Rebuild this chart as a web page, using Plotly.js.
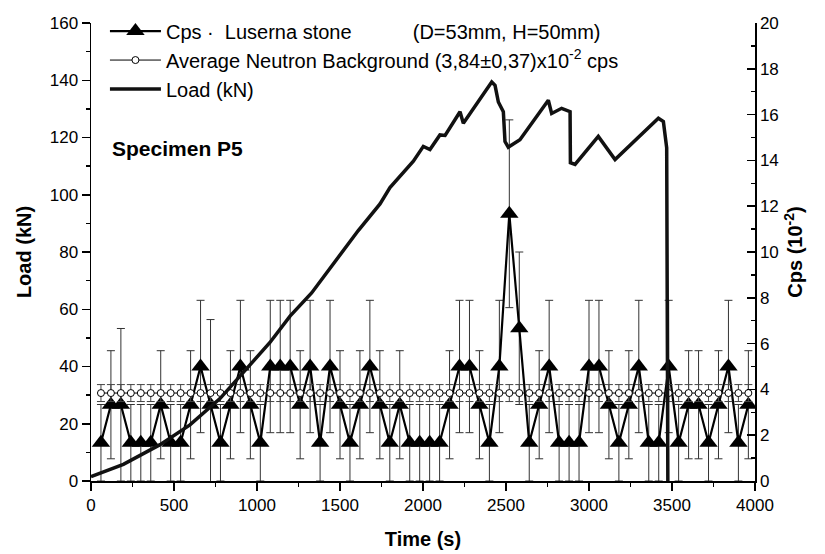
<!DOCTYPE html>
<html><head><meta charset="utf-8">
<script src="https://cdn.plot.ly/plotly-3.0.1.min.js"></script>
<style>html,body{margin:0;padding:0;background:#fff}</style>
</head><body><div id="chart" style="width:825px;height:554px"></div>
<script>
// Time of each neutron count (s)
const time = [60,120,180,240,300,360,420,480,540,600,
  660,720,780,840,900,960,1020,1080,1140,1200,
  1260,1320,1380,1440,1500,1560,1620,1680,1740,1800,
  1860,1920,1980,2040,2100,2160,2220,2280,2340,2400,
  2460,2520,2580,2640,2700,2760,2820,2880,2940,3000,
  3060,3120,3180,3240,3300,3360,3420,3480,3540,3600,
  3660,3720,3780,3840,3900,3960];
// Cps (x10^-2)
const cps = [1.67,3.33,3.33,1.67,1.67,1.67,3.33,1.67,1.67,3.33,
  5.0,3.33,1.67,3.33,5.0,3.33,1.67,5.0,5.0,5.0,
  3.33,5.0,1.67,5.0,3.33,1.67,3.33,5.0,3.33,1.67,
  3.33,1.67,1.67,1.67,1.67,3.33,5.0,5.0,3.33,1.67,
  5.0,11.67,6.67,1.67,3.33,5.0,1.67,1.67,1.67,5.0,
  5.0,3.33,1.67,3.33,5.0,1.67,1.67,5.0,1.67,3.33,
  3.33,1.67,3.33,5.0,1.67,3.33];
const cpsErr = [1.67,2.36,3.33,1.67,1.67,1.67,2.36,1.67,1.67,2.36,
  2.89,3.72,1.67,2.36,2.89,2.36,1.67,2.89,2.89,2.89,
  2.36,2.89,1.67,2.89,2.36,1.67,2.36,2.89,2.36,1.67,
  2.36,1.67,1.67,1.67,1.67,2.36,2.89,2.89,2.36,1.67,
  2.89,4.10,3.33,1.67,2.36,2.89,1.67,1.67,1.67,2.89,
  2.89,2.36,1.67,2.36,2.89,1.67,1.67,2.89,1.67,2.36,
  2.36,1.67,2.36,2.89,1.67,2.36];
// Average neutron background (x10^-2 cps)
const bgCps = [3.84,3.84,3.84,3.84,3.84,3.84,3.84,3.84,3.84,3.84,
  3.84,3.84,3.84,3.84,3.84,3.84,3.84,3.84,3.84,3.84,
  3.84,3.84,3.84,3.84,3.84,3.84,3.84,3.84,3.84,3.84,
  3.84,3.84,3.84,3.84,3.84,3.84,3.84,3.84,3.84,3.84,
  3.84,3.84,3.84,3.84,3.84,3.84,3.84,3.84,3.84,3.84,
  3.84,3.84,3.84,3.84,3.84,3.84,3.84,3.84,3.84,3.84,
  3.84,3.84,3.84,3.84,3.84,3.84];
const bgErr = 0.37;
// Load curve
const loadTime = [0,195,416,596,777,938,1078,1199,1329,1610,1741,1801,1942,2002,2042,2102,2133,2223,2243,2414,2434,2454,2484,2494,2514,2584,2755,2775,2835,2886,2888,2916,3056,3157,3418,3448,3468,3475];
const load =     [1.5,5.8,12.7,19.6,28.8,39.2,48.4,57.6,65.7,87.5,96.8,102.5,111.7,116.9,115.8,120.9,120.7,129,125,139.4,138.2,132.4,129,118.6,116.6,119.2,133,128.4,130.2,129,111.2,110.6,120.4,112.3,126.7,125.6,116.4,0];

const FONT = 'Liberation Sans, Arial, sans-serif';

const traces = [
  {
    x: time, y: cps, type: 'scatter', mode: 'lines+markers', yaxis: 'y',
    name: 'Cps \u00b7\u00a0\u00a0Luserna stone\u00a0\u00a0\u00a0\u00a0\u00a0\u00a0\u00a0\u00a0\u00a0\u00a0\u00a0(D=53mm, H=50mm)',
    line: {color: '#000', width: 2.2},
    marker: {symbol: 'triangle-up', size: 16, color: '#000'},
    error_y: {type: 'data', array: cpsErr, visible: true, color: '#333', thickness: 1, width: 4}
  },
  {
    x: time, y: bgCps, type: 'scatter', mode: 'lines+markers', yaxis: 'y',
    name: 'Average Neutron Background (3,84\u00b10,37)x10<sup>-2</sup> cps',
    line: {color: '#000', width: 1},
    marker: {symbol: 'circle', size: 7, color: '#fff', line: {color: '#000', width: 1}},
    error_y: {type: 'constant', value: bgErr, visible: true, color: '#444', thickness: 1, width: 4}
  },
  {
    x: loadTime, y: load, type: 'scatter', mode: 'lines', yaxis: 'y2',
    name: 'Load (kN)',
    line: {color: '#111', width: 3.5}
  }
];

const layout = {
  width: 825, height: 554,
  margin: {l: 91, r: 70, t: 17, b: 73},
  paper_bgcolor: '#fff', plot_bgcolor: 'rgba(0,0,0,0)',
  font: {family: FONT, size: 17, color: '#000'},
  showlegend: true,
  legend: {
    x: 0.021, y: 1.025, xanchor: 'left', yanchor: 'top',
    bgcolor: 'rgba(0,0,0,0)', borderwidth: 0,
    font: {family: FONT, size: 20, color: '#000'},
    itemwidth: 51, tracegroupgap: 0
  },
  xaxis: {
    range: [0, 4000], tick0: 0, dtick: 500,
    ticks: 'outside', ticklen: 8, tickwidth: 1.5, tickcolor: '#000',
    showline: true, linewidth: 1.5, linecolor: '#000',
    showgrid: false, zeroline: false,
    minor: {dtick: 250, ticks: 'outside', ticklen: 4, tickwidth: 1.5, tickcolor: '#000', showgrid: false},
    tickfont: {size: 17},
    title: {text: '<b>Time (s)</b>', font: {size: 20}, standoff: 18}
  },
  yaxis: {
    side: 'right', range: [0, 20], tick0: 0, dtick: 2,
    ticks: 'inside', ticklen: 8, tickwidth: 1.5, tickcolor: '#000',
    showline: true, linewidth: 1.5, linecolor: '#000',
    showgrid: false, zeroline: false,
    minor: {dtick: 1, ticks: 'inside', ticklen: 4, tickwidth: 1.5, tickcolor: '#000', showgrid: false},
    tickfont: {size: 17},
    title: {text: '<b>Cps (10<sup>-2</sup>)</b>', font: {size: 20}, standoff: 10}
  },
  yaxis2: {
    overlaying: 'y', side: 'left', anchor: 'x', range: [0, 160], tick0: 0, dtick: 20,
    ticks: 'outside', ticklen: 8, tickwidth: 1.5, tickcolor: '#000',
    showline: true, linewidth: 1.5, linecolor: '#000',
    showgrid: false, zeroline: false,
    minor: {dtick: 10, ticks: 'outside', ticklen: 4, tickwidth: 1.5, tickcolor: '#000', showgrid: false},
    tickfont: {size: 17},
    title: {text: '<b>Load (kN)</b>', font: {size: 20}, standoff: 12}
  },
  annotations: [{
    text: '<b>Specimen P5</b>', xref: 'paper', yref: 'paper',
    x: 0.028, y: 0.725, xanchor: 'left', yanchor: 'middle', showarrow: false,
    font: {family: FONT, size: 21, color: '#000'}
  }]
};

Plotly.newPlot('chart', traces, layout, {displayModeBar: false, staticPlot: true});
</script>
</body></html>
